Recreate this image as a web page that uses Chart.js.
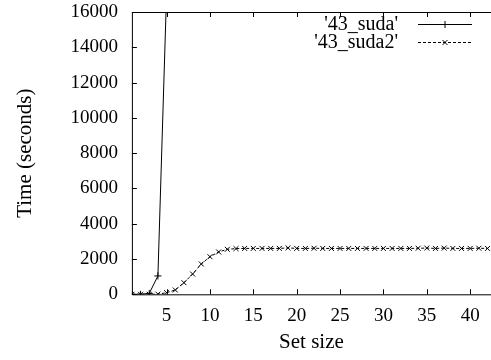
<!DOCTYPE html>
<html>
<head>
<meta charset="utf-8">
<script src="https://cdn.jsdelivr.net/npm/chart.js@4/dist/chart.umd.min.js"></script>
<style>
  html, body { margin: 0; padding: 0; background: #fff; }
  #wrap { width: 491px; height: 360px; }
</style>
</head>
<body>
<div id="wrap"><canvas id="chart"></canvas></div>
<script>
/* Data. */
const setSizes = [1, 2, 3, 4, 5, 6, 7, 8, 9, 10, 11, 12, 13, 14, 15, 16, 17, 18, 19, 20, 21,
    22, 23, 24, 25, 26, 27, 28, 29, 30, 31, 32, 33, 34, 35, 36, 37, 38, 39, 40, 41, 42];
const suda = [0, 0, 50, 1040, 17100];
const suda2 = [0, 0, 0, 10, 90, 244, 658, 1150, 1718, 2130, 2400, 2550, 2590, 2600, 2600,
    2600, 2600, 2600, 2630, 2600, 2600, 2610, 2600, 2600, 2600, 2600, 2600, 2600, 2600, 2600,
    2600, 2600, 2600, 2610, 2620, 2600, 2620, 2600, 2600, 2600, 2610, 2600];
const xTicks = [5, 10, 15, 20, 25, 30, 35, 40];
const yTicks = [0, 2000, 4000, 6000, 8000, 10000, 12000, 14000, 16000];
const seriesNames = ["'43_suda'", "'43_suda2'"];

const FONT = "'Liberation Serif', 'Times New Roman', serif";
const TICK_SIZE = 19;
const TITLE_SIZE = 21;
const KEY_SIZE = 20;

const toPoints = (vals) => vals.map((v, i) => ({x: setSizes[i], y: v}));

// gnuplot style box with inward ticks (left, bottom, and mirrored on top)
const boxPlugin = {
    id: "box",
    afterDatasetsDraw(chart) {
        const {ctx, chartArea: a, scales} = chart;
        const tl = 5;
        ctx.save();
        ctx.strokeStyle = "#000";
        ctx.lineWidth = 1;
        ctx.beginPath();
        ctx.moveTo(a.right + 1, a.top + 0.5);
        ctx.lineTo(a.left + 0.5, a.top + 0.5);
        ctx.lineTo(a.left + 0.5, a.bottom + 0.5);
        ctx.lineTo(a.right + 1, a.bottom + 0.5);
        xTicks.forEach((t) => {
            const px = Math.round(scales.x.getPixelForValue(t)) + 0.5;
            ctx.moveTo(px, a.bottom);
            ctx.lineTo(px, a.bottom - tl);
            ctx.moveTo(px, a.top);
            ctx.lineTo(px, a.top + tl);
        });
        yTicks.forEach((t) => {
            const py = Math.round(scales.y.getPixelForValue(t)) + 0.5;
            ctx.moveTo(a.left, py);
            ctx.lineTo(a.left + tl, py);
        });
        ctx.stroke();
        ctx.restore();
    }
};

// legend like gnuplot: label right aligned, then sample line with marker
const keyPlugin = {
    id: "key",
    afterDraw(chart) {
        const {ctx, chartArea: a} = chart;
        ctx.save();
        ctx.font = KEY_SIZE + "px " + FONT;
        ctx.fillStyle = "#000";
        ctx.textAlign = "right";
        ctx.textBaseline = "middle";
        chart.data.datasets.forEach((ds, i) => {
            const y = a.top + 12 + i * 18;
            const x1 = a.right - 73;
            const x2 = a.right - 19;
            ctx.fillText(seriesNames[i], x1 - 20, y + 1);
            ctx.strokeStyle = ds.borderColor;
            ctx.lineWidth = 1;
            ctx.setLineDash(ds.borderDash || []);
            ctx.beginPath();
            ctx.moveTo(x1, y + 0.5);
            ctx.lineTo(x2, y + 0.5);
            ctx.stroke();
            ctx.setLineDash([]);
            Chart.helpers.drawPoint(ctx, {
                pointStyle: ds.pointStyle, radius: ds.pointRadius, borderWidth: 1
            }, (x1 + x2) / 2, y + 0.5);
        });
        ctx.restore();
    }
};

// drop the label overflow padding so the plot box sits where gnuplot put it
const noPad = (s) => { s.paddingTop = 0; s.paddingBottom = 0; s.paddingLeft = 0; s.paddingRight = 0; };

new Chart(document.getElementById("chart"), {
    type: "line",
    data: {
        datasets: [{
            label: seriesNames[0], data: toPoints(suda),
            borderColor: "#000", borderWidth: 1, pointStyle: "cross", pointRadius: 3.5,
            pointBorderColor: "#000", pointBorderWidth: 1, fill: false, tension: 0,
        }, {
            label: seriesNames[1], data: toPoints(suda2),
            borderColor: "#000", borderWidth: 1, borderDash: [3, 2], pointStyle: "crossRot",
            pointRadius: 3.5, pointBorderColor: "#000", pointBorderWidth: 1, fill: false, tension: 0,
        }],
    },
    options: {
        responsive: true, maintainAspectRatio: false, animation: false,
        layout: {autoPadding: false, padding: {top: 12, left: 0, right: 0, bottom: 0}},
        plugins: {legend: {display: false}, tooltip: {enabled: false}},
        scales: {
            x: {
                type: "linear", min: 1, max: 42.4,
                afterBuildTicks: (s) => { s.ticks = xTicks.map((v) => ({value: v})); },
                afterFit: (s) => { s.height = 65.7; noPad(s); },
                grid: {display: false, drawTicks: false}, border: {display: false},
                ticks: {color: "#000", padding: 10, font: {family: FONT, size: TICK_SIZE},
                    callback: (v) => String(v)},
                title: {
                    display: true, text: "Set size", color: "#000",
                    font: {family: FONT, size: TITLE_SIZE}, padding: {top: 0, bottom: 5},
                },
            },
            y: {
                type: "linear", min: 0, max: 16000,
                afterBuildTicks: (s) => { s.ticks = yTicks.map((v) => ({value: v})); },
                afterFit: (s) => { s.width = 131.9; noPad(s); },
                grid: {display: false, drawTicks: false}, border: {display: false},
                ticks: {color: "#000", padding: 14, font: {family: FONT, size: TICK_SIZE},
                    callback: (v) => String(v)},
                title: {
                    display: true, text: "Time (seconds)", color: "#000",
                    font: {family: FONT, size: TITLE_SIZE}, padding: {top: 13, bottom: 0},
                },
            },
        },
    },
    plugins: [boxPlugin, keyPlugin],
});
</script>
</body>
</html>
